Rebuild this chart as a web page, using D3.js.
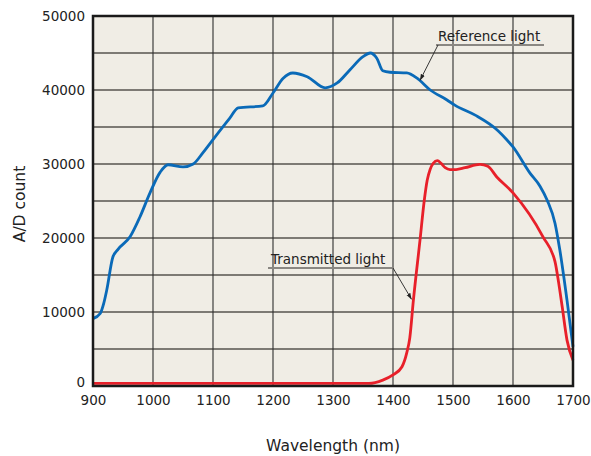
<!DOCTYPE html>
<html>
<head>
<meta charset="utf-8">
<script src="https://cdn.jsdelivr.net/npm/d3@7"></script>
<style>
  body { margin: 0; background: #fff; }
  svg text { font-family: "DejaVu Sans", sans-serif; fill: #222; }
</style>
</head>
<body>
<script>
// wavelength (nm), A/D count
const referenceLight = [
  [900, 9100], [912, 9800], [918, 11200], [923, 13000], [933, 17400], [942, 18500],
  [962, 20200], [978, 22800], [995, 26100], [1012, 28900], [1025, 29900], [1050, 29600],
  [1067, 30000], [1083, 31500], [1100, 33300], [1128, 36200], [1142, 37600], [1183, 37850],
  [1200, 39600], [1217, 41600], [1233, 42300], [1257, 41800], [1287, 40300], [1307, 40950],
  [1328, 42700], [1350, 44500], [1362, 45000], [1373, 44300], [1383, 42600], [1395, 42400],
  [1423, 42300], [1440, 41600], [1462, 40000], [1490, 38650], [1503, 37950], [1537, 36600],
  [1575, 34500], [1590, 33250], [1600, 32300], [1628, 28800], [1645, 27000], [1657, 25100],
  [1670, 22000], [1678, 18400], [1690, 11600], [1700, 5300]
];
const transmittedLight = [
  [900, 350], [1000, 350], [1100, 350], [1200, 350], [1300, 350], [1360, 350],
  [1383, 800], [1400, 1500], [1415, 2600], [1423, 4500], [1428, 6500], [1434, 11600],
  [1445, 19700], [1452, 25000], [1457, 27800], [1462, 29300], [1467, 30100], [1474, 30450],
  [1480, 30100], [1487, 29500], [1495, 29250], [1505, 29250], [1520, 29500], [1545, 29950],
  [1558, 29700], [1573, 28250], [1600, 26100], [1650, 20150], [1670, 16800], [1676, 14000],
  [1682, 10700], [1690, 6200], [1700, 3500]
];
const xTicks = [900, 1000, 1100, 1200, 1300, 1400, 1500, 1600, 1700];
const yTicks = [0, 10000, 20000, 30000, 40000, 50000];
const yGrid = d3.range(0, 50001, 5000);

const W = 591, H = 456;
const margin = { top: 16, right: 18, bottom: 70, left: 93 };

const svg = d3.select('body').append('svg')
  .attr('width', W)
  .attr('height', H);

const x = d3.scaleLinear().domain([900, 1700]).range([margin.left, W - margin.right]);
const y = d3.scaleLinear().domain([0, 50000]).range([H - margin.bottom, margin.top]);

// plot background
svg.append('rect')
  .attr('x', x(900)).attr('y', y(50000))
  .attr('width', x(1700) - x(900)).attr('height', y(0) - y(50000))
  .attr('fill', '#f0ede5');

// grid
svg.append('g').selectAll('line').data(yGrid).join('line')
  .attr('x1', x(900)).attr('x2', x(1700))
  .attr('y1', d => y(d)).attr('y2', d => y(d))
  .attr('stroke', '#7d7a74').attr('stroke-width', 2);
svg.append('g').selectAll('line').data(xTicks).join('line')
  .attr('x1', d => x(d)).attr('x2', d => x(d))
  .attr('y1', y(0)).attr('y2', y(50000))
  .attr('stroke', '#2e2e2e').attr('stroke-width', 1.1);

// axes (labels only)
const xAxis = svg.append('g')
  .attr('transform', `translate(0,${y(0)})`)
  .call(d3.axisBottom(x).tickValues(xTicks).tickSize(0).tickPadding(9).tickFormat(d3.format('d')));
xAxis.select('.domain').remove();
xAxis.selectAll('text').style('font-size', '13.5px').attr('fill', '#222');

const yAxis = svg.append('g')
  .attr('transform', `translate(${x(900)},0)`)
  .call(d3.axisLeft(y).tickValues(yTicks).tickSize(0).tickPadding(8).tickFormat(d3.format('d')));
yAxis.select('.domain').remove();
yAxis.selectAll('text').style('font-size', '13.5px').attr('fill', '#222');
// the zero label sits a little above the axis line
yAxis.selectAll('text').filter(d => d === 0).attr('y', -4);

// curves
const line = d3.line()
  .x(d => x(d[0])).y(d => y(d[1]))
  .curve(d3.curveMonotoneX);

svg.append('path').datum(transmittedLight)
  .attr('d', line).attr('fill', 'none')
  .attr('stroke', '#e8202a').attr('stroke-width', 2.8);
svg.append('path').datum(referenceLight)
  .attr('d', line).attr('fill', 'none')
  .attr('stroke', '#0a6ab8').attr('stroke-width', 2.8);

// frame
svg.append('rect')
  .attr('x', x(900)).attr('y', y(50000))
  .attr('width', x(1700) - x(900)).attr('height', y(0) - y(50000))
  .attr('fill', 'none').attr('stroke', '#1a1a1a').attr('stroke-width', 2.5);

// annotations
svg.append('defs').append('marker')
  .attr('id', 'arr').attr('viewBox', '0 0 10 10')
  .attr('refX', 10).attr('refY', 5)
  .attr('markerWidth', 7).attr('markerHeight', 7)
  .attr('orient', 'auto')
  .append('path').attr('d', 'M0,1.5L10,5L0,8.5Z').attr('fill', '#222');

function callout(label, tx, ty, lineX1, lineX2, target) {
  svg.append('text')
    .attr('x', tx).attr('y', ty)
    .style('font-size', '13.5px')
    .text(label);
  svg.append('line')
    .attr('x1', lineX1).attr('x2', lineX2)
    .attr('y1', ty + 4).attr('y2', ty + 4)
    .attr('stroke', '#8a8782').attr('stroke-width', 2);
  svg.append('line')
    .attr('x1', target.from).attr('y1', ty + 4)
    .attr('x2', x(target.wl)).attr('y2', y(target.val))
    .attr('stroke', '#222').attr('stroke-width', 0.9)
    .attr('marker-end', 'url(#arr)');
}

callout('Reference light', 438, 41, 436, 544, { from: 438, wl: 1445, val: 41300 });
callout('Transmitted light', 271, 264, 268, 394, { from: 393, wl: 1431, val: 11700 });

// axis titles
svg.append('text')
  .attr('x', x(1300)).attr('y', 451)
  .attr('text-anchor', 'middle')
  .style('font-size', '15.5px')
  .text('Wavelength (nm)');

svg.append('text')
  .attr('transform', 'translate(25,204) rotate(-90)')
  .attr('text-anchor', 'middle')
  .style('font-size', '15.5px')
  .text('A/D count');
</script>
</body>
</html>
